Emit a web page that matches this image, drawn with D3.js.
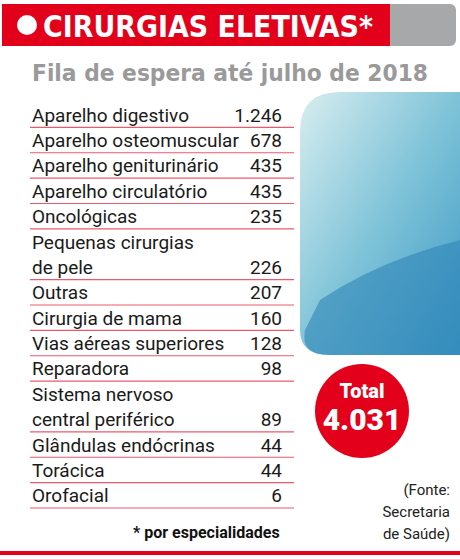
<!DOCTYPE html><html><head><meta charset="utf-8"><script src="https://cdn.jsdelivr.net/npm/d3@7"></script>
<style>body{margin:0;background:#fff}</style></head><body><script>
const categories=[["Aparelho digestivo"],["Aparelho osteomuscular"],["Aparelho geniturinário"],["Aparelho circulatório"],["Oncológicas"],["Pequenas cirurgias","de pele"],["Outras"],["Cirurgia de mama"],["Vias aéreas superiores"],["Reparadora"],["Sistema nervoso","central periférico"],["Glândulas endócrinas"],["Torácica"],["Orofacial"]];
const values=[1246,678,435,435,235,226,207,160,128,98,89,44,44,6];
const total=4031;
const fmt=d3.formatLocale({decimal:",",thousands:".",grouping:[3]}).format(",d");
const W=460,H=559,F="Roboto, 'Open Sans', sans-serif",FB="'DejaVu Sans', sans-serif";
const svg=d3.select("body").append("svg").attr("width",W).attr("height",H);
const defs=svg.append("defs");
const g=defs.append("linearGradient").attr("id","ph").attr("x1",0).attr("y1",0).attr("x2",1).attr("y2",1);
g.append("stop").attr("offset",0).attr("stop-color","#d8eef0");
g.append("stop").attr("offset",0.5).attr("stop-color","#7fc3d8");
g.append("stop").attr("offset",1).attr("stop-color","#3b98c4");
svg.append("rect").attr("x",380).attr("y",4).attr("width",76).attr("height",42).attr("rx",6).attr("fill","#a7a8aa");
svg.append("rect").attr("x",2).attr("y",4).attr("width",388).attr("height",42).attr("fill","#e3001b");
svg.append("circle").attr("cx",27).attr("cy",25).attr("r",10).attr("fill","#fff");
svg.append("text").attr("x",43).attr("y",37).attr("fill","#fff").attr("font-family",FB).attr("font-weight",700).attr("font-size",30).attr("textLength",330).attr("lengthAdjust","spacingAndGlyphs").text("CIRURGIAS ELETIVAS*");
svg.append("text").attr("x",32).attr("y",81).attr("fill","#9a9a9a").attr("font-family",FB).attr("font-weight",700).attr("font-size",23).attr("textLength",396).attr("lengthAdjust","spacingAndGlyphs").text("Fila de espera até julho de 2018");
svg.append("path").attr("d","M 460 92 L 340 92 Q 300 92 300 132 L 300 330 Q 300 355 330 355 L 460 355 Z").attr("fill","url(#ph)");
svg.append("path").attr("d","M 320 300 Q 380 260 460 240 L 460 355 L 330 355 Q 300 355 305 330 Z").attr("fill","#2f86b8").attr("opacity",0.6);
const slots=[];let s=0;categories.forEach(c=>{slots.push(s);s+=c.length;});
const y=d3.scaleBand().domain(d3.range(s)).range([102,508]);
const rows=svg.selectAll("g.r").data(categories).join("g");
rows.each(function(c,i){
 const gg=d3.select(this),s0=slots[i];
 c.forEach((t,k)=>gg.append("text").attr("x",32).attr("y",y(s0+k)+y.bandwidth()/2+7).attr("font-family",F).attr("font-size",19).attr("fill","#1a1a1a").text(t));
 gg.append("text").attr("x",282).attr("text-anchor","end").attr("y",y(s0+c.length-1)+y.bandwidth()/2+7).attr("font-family",F).attr("font-size",19).attr("fill","#1a1a1a").text(fmt(values[i]));
 const ly=y(s0+c.length-1)+y.bandwidth();
 gg.append("line").attr("x1",30).attr("x2",294).attr("y1",ly).attr("y2",ly).attr("stroke","#ea5a6c").attr("stroke-width",1.2);
});
svg.append("circle").attr("cx",362).attr("cy",411).attr("r",47).attr("fill","#e3001b");
svg.append("text").attr("x",362).attr("y",398).attr("text-anchor","middle").attr("fill","#fff").attr("font-family",F).attr("font-weight",900).attr("font-size",20).text("Total");
svg.append("text").attr("x",362).attr("y",430).attr("text-anchor","middle").attr("fill","#fff").attr("font-family",F).attr("font-weight",900).attr("font-size",30).text(fmt(total));
["(Fonte:","Secretaria","de Saúde)"].forEach((t,i)=>svg.append("text").attr("x",450).attr("y",495+i*22).attr("text-anchor","end").attr("font-family",F).attr("font-size",15).attr("fill","#222").text(t));
svg.append("text").attr("x",133).attr("y",538).attr("font-family",F).attr("font-weight",700).attr("font-size",16).attr("fill","#111").text("* por especialidades");
svg.append("rect").attr("x",0).attr("y",551).attr("width",460).attr("height",4).attr("fill","#e3001b");
</script></body></html>
